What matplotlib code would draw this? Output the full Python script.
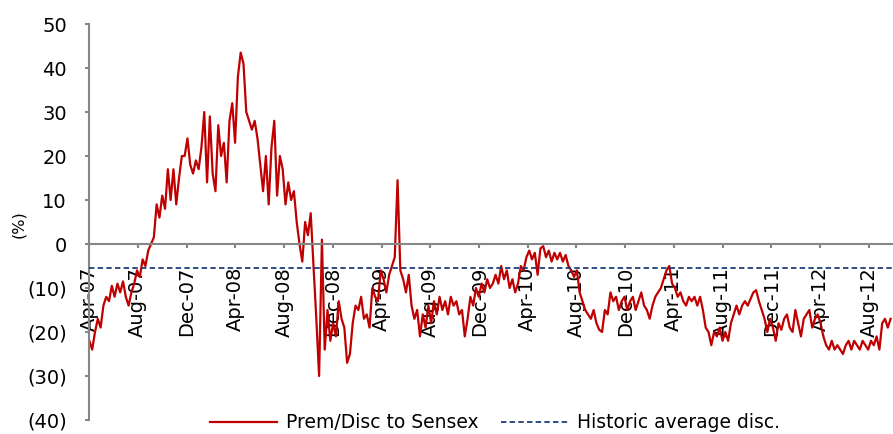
import matplotlib
matplotlib.use("Agg")
import matplotlib.pyplot as plt
import matplotlib.dates as mdates
from matplotlib.ticker import FuncFormatter
import pandas as pd

# Weekly premium / discount to Sensex (%), grouped by calendar year
prem_2007 = [-22, -24, -20, -17, -19, -14, -12, -13, -9.5, -12,
             -9, -11, -8.5, -12, -14, -11, -9, -6, -7.5, -3.5,
             -5, -1.5, 0, 1.5, 9, 6, 11, 8, 17, 10,
             17, 9, 15, 20, 20, 24, 18, 16, 19, 17]
prem_2008 = [22, 30, 14, 29, 16, 12, 27, 20, 23, 14,
             28, 32, 23, 38, 43.5, 41, 30, 28, 26, 28,
             24, 18, 12, 20, 9, 22, 28, 11, 20, 17,
             9, 14, 10, 12, 5, 0, -4, 5, 2, 7,
             -5, -17, -30, 1, -24, -15, -22, -18, -21, -13,
             -17, -19]
prem_2009 = [-27, -25, -18, -14, -15, -12, -17, -16, -19, -10,
             -12, -13, -6, -8, -11, -7, -5, -3, 14.5, -6,
             -8, -11, -7, -14, -17, -15, -21, -16, -19, -14,
             -18, -13, -16, -12, -15, -13, -16, -12, -14, -13,
             -16, -15, -21, -17, -12, -14, -10, -12, -9, -11,
             -8, -10]
prem_2010 = [-9, -7, -9, -5, -8, -6, -10, -8, -11, -9,
             -5, -6, -3, -1.5, -3.5, -2, -7, -1, -0.5, -3,
             -1.5, -4, -2, -3.5, -2, -4, -2.5, -5, -6, -7.5,
             -6, -11, -13, -15, -16, -17, -15, -18, -19.5, -20,
             -15, -16, -11, -13, -12, -15, -13, -12, -15, -13,
             -12, -15]
prem_2011 = [-13, -11, -14, -15, -17, -14, -12, -11, -10, -8,
             -6, -5, -9, -10, -12, -11, -13, -14, -12, -13,
             -12, -14, -12, -15, -19, -20, -23, -20, -21, -19,
             -22, -20, -22, -18, -16, -14, -16, -14, -13, -14,
             -12.5, -11, -10.5, -13, -15, -17, -20, -17, -19, -22,
             -18, -19.5]
prem_2012 = [-17, -16, -19, -20, -15, -18, -21, -17, -16, -15,
             -19, -17, -16, -18, -21, -23, -24, -22, -24, -23,
             -24, -25, -23, -22, -24, -22, -23, -24, -22, -23,
             -24, -22, -23, -21, -24, -18, -17, -19, -17]

historic_avg = -5.5

series_start = "2007-04-02"
axis_start, axis_end = "2007-04-01", "2012-09-30"
tick_dates = pd.date_range("2007-04-01", "2012-08-01", freq="4MS")
y_ticks = list(range(-40, 51, 10))

values = prem_2007 + prem_2008 + prem_2009 + prem_2010 + prem_2011 + prem_2012
dates = pd.date_range(series_start, periods=len(values), freq="7D")

GRAY = "#868686"
RED = "#C00000"
NAVY = "#1F3F7A"

fig = plt.figure(figsize=(8.93, 4.34), dpi=100)
ax = fig.add_axes([89 / 893, 1 - 420 / 434, 1 - 89 / 893, (420 - 24) / 434])

line_main, = ax.plot(dates, values, color=RED, lw=1.6, zorder=2,
                     label="Prem/Disc to Sensex")
line_avg = ax.axhline(historic_avg, color=NAVY, lw=1.3, dashes=(3, 1.8),
                      zorder=3, label="Historic average disc.")

ax.set_xlim(pd.Timestamp(axis_start), pd.Timestamp(axis_end))
ax.set_ylim(-40, 50)

for side in ("top", "right"):
    ax.spines[side].set_visible(False)
ax.spines["left"].set_color(GRAY)
ax.spines["left"].set_linewidth(1.5)
ax.spines["bottom"].set_position(("data", 0))
ax.spines["bottom"].set_color(GRAY)
ax.spines["bottom"].set_linewidth(1.5)

ax.set_xticks(tick_dates)
ax.xaxis.set_major_formatter(mdates.DateFormatter("%b-%y"))
ax.tick_params(axis="x", direction="out", length=3, width=1.5, color=GRAY,
               labelsize=14, pad=13.5, labelrotation=90, labelcolor="black")

ax.set_yticks(y_ticks)
ax.yaxis.set_major_formatter(FuncFormatter(
    lambda v, _: f"({abs(int(v))})" if v < 0 else f"{int(v)}"))
ax.tick_params(axis="y", direction="out", length=3, width=1.5, color=GRAY,
               labelsize=14, pad=13, labelcolor="black")

fig.text(19 / 893, 1 - 224 / 434, "(%)", rotation=90, fontsize=11.5,
         ha="center", va="center")

fig.legend(handles=[line_main, line_avg], loc="center",
           bbox_to_anchor=(495 / 893, 1 - 423 / 434), ncol=2, frameon=False,
           fontsize=13.5, handlelength=3.6, handletextpad=0.45,
           columnspacing=1.2, borderpad=0, borderaxespad=0)

fig.savefig("out.png", dpi=100)
